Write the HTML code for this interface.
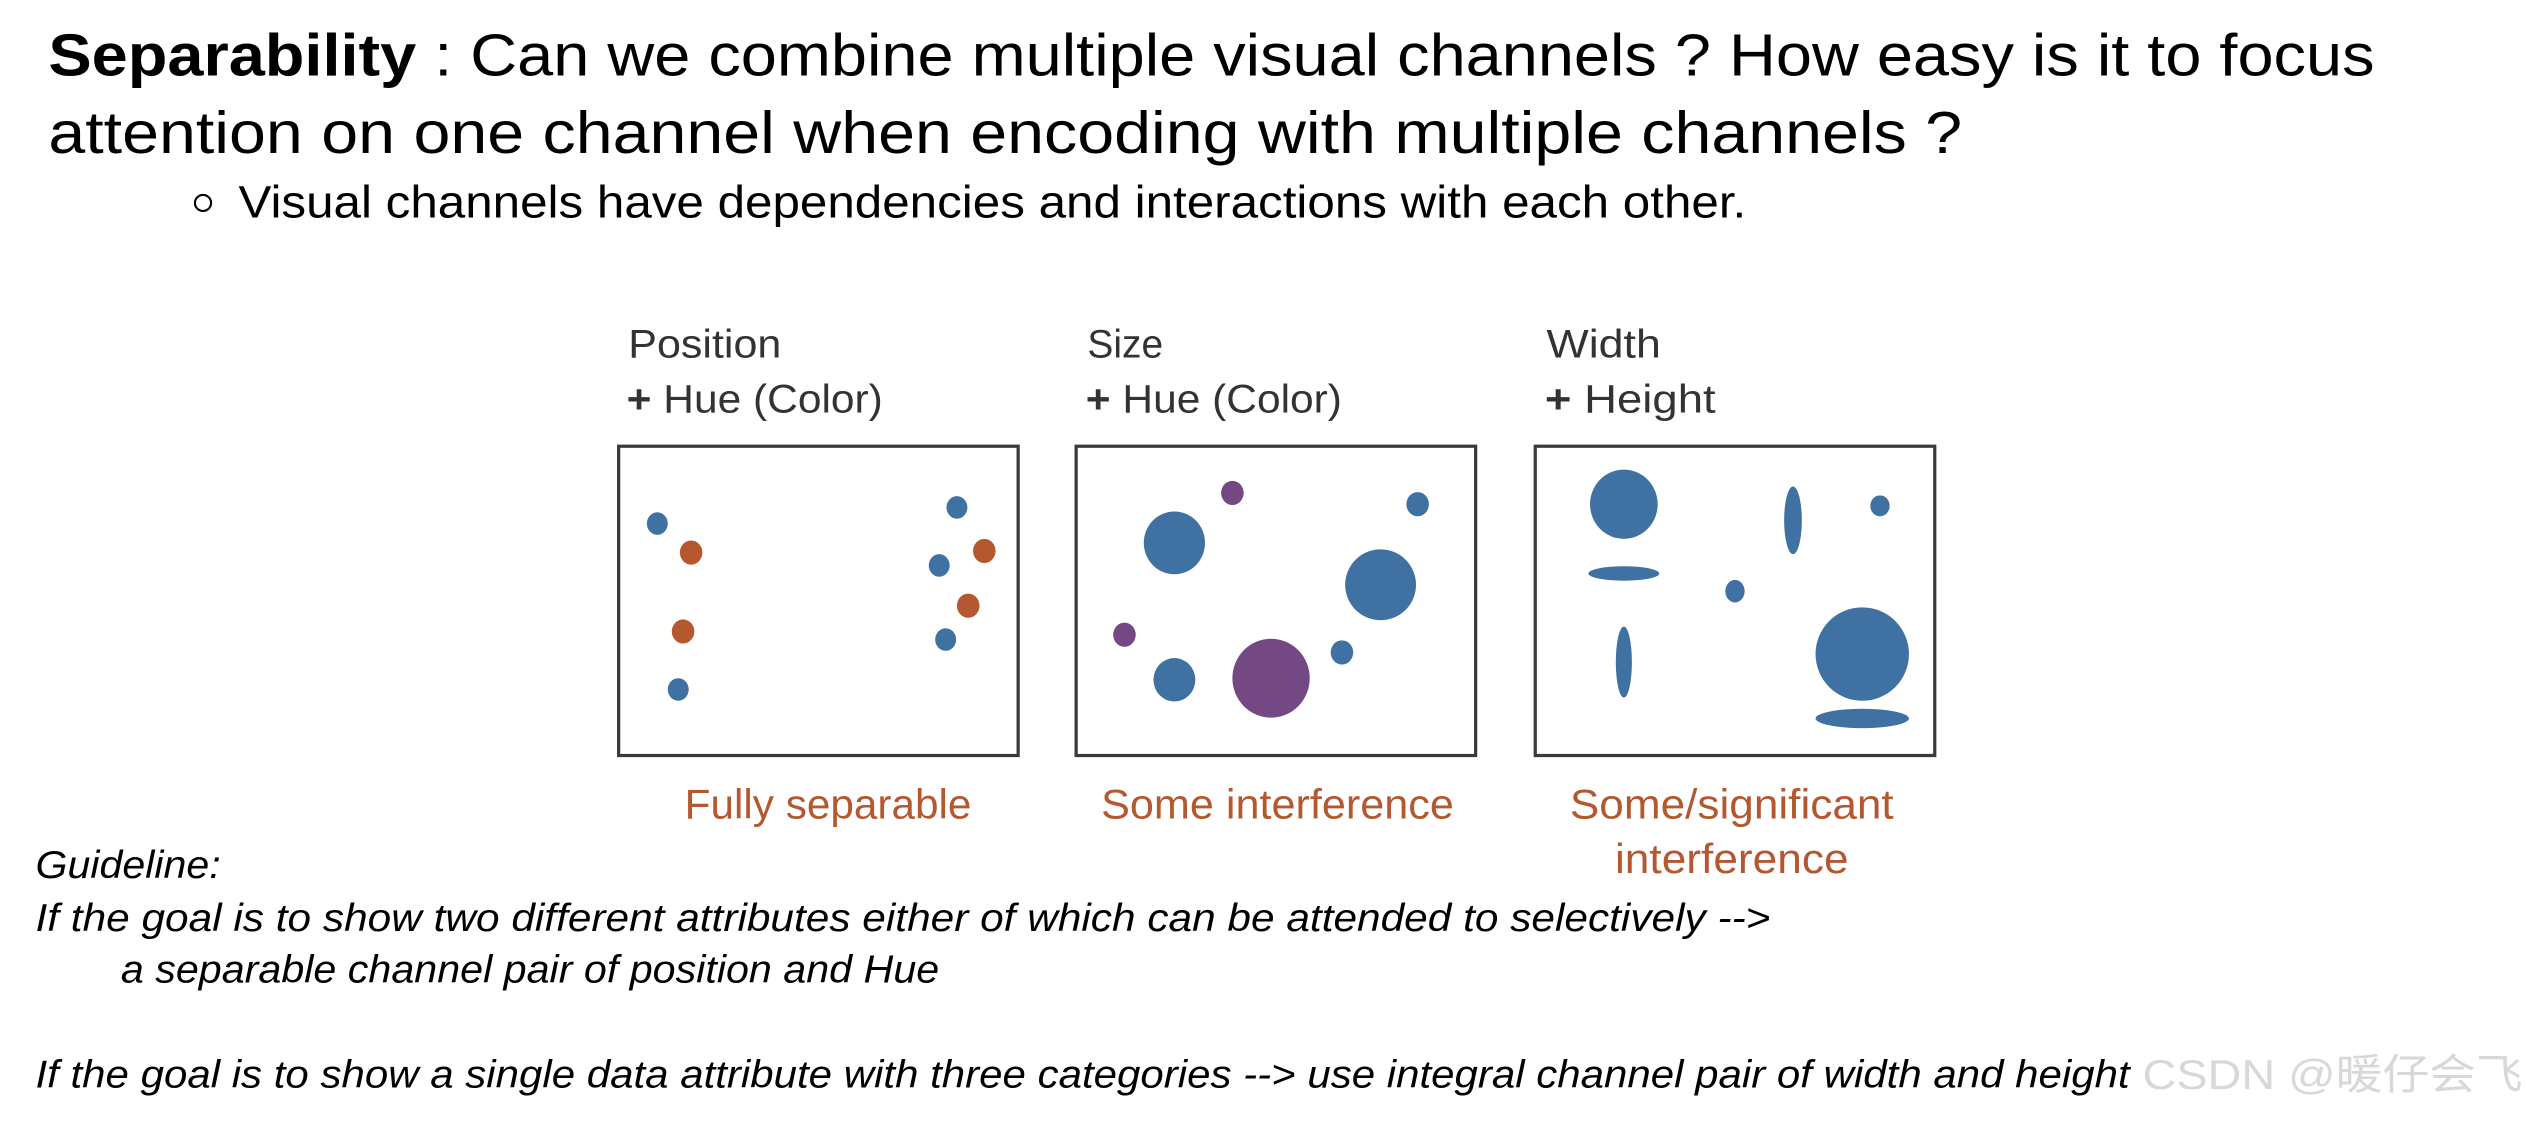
<!DOCTYPE html>
<html><head><meta charset="utf-8"><style>
html,body{margin:0;padding:0;background:#fff;}
svg{display:block;}
text{font-family:"Liberation Sans","Noto Sans CJK SC",sans-serif;}
</style></head><body>
<svg width="2526" height="1122" viewBox="0 0 1568 696.5" xmlns="http://www.w3.org/2000/svg">
<rect width="1568" height="696.5" fill="#fff"/>
<text x="30" y="47" font-size="37" fill="#000" textLength="1444" lengthAdjust="spacingAndGlyphs"><tspan font-weight="bold">Separability</tspan> : Can we combine multiple visual channels ? How easy is it to focus</text>
<text x="30" y="95" font-size="37" fill="#000" textLength="1188" lengthAdjust="spacingAndGlyphs">attention on one channel when encoding with multiple channels ?</text>
<circle cx="126" cy="126" r="5" fill="none" stroke="#000" stroke-width="1.3"/>
<text x="148" y="135" font-size="28" fill="#000" textLength="936" lengthAdjust="spacingAndGlyphs">Visual channels have dependencies and interactions with each other.</text>

<g font-size="25" fill="#333">
<text x="390" y="222" textLength="95" lengthAdjust="spacingAndGlyphs">Position</text>
<text x="389" y="256" textLength="159" lengthAdjust="spacingAndGlyphs"><tspan font-weight="bold">+</tspan> Hue (Color)</text>
<text x="675" y="222" textLength="47" lengthAdjust="spacingAndGlyphs">Size</text>
<text x="674" y="256" textLength="159" lengthAdjust="spacingAndGlyphs"><tspan font-weight="bold">+</tspan> Hue (Color)</text>
<text x="960" y="222" textLength="71" lengthAdjust="spacingAndGlyphs">Width</text>
<text x="959" y="256" textLength="106" lengthAdjust="spacingAndGlyphs"><tspan font-weight="bold">+</tspan> Height</text>
</g>

<g fill="none" stroke="#3a3a3a" stroke-width="2">
<rect x="384" y="277" width="248" height="192"/>
<rect x="668" y="277" width="248" height="192"/>
<rect x="953" y="277" width="248" height="192"/>
</g>

<g fill="#3f72a2">
<ellipse cx="408" cy="325" rx="6.5" ry="7"/>
<ellipse cx="421" cy="428" rx="6.5" ry="7"/>
<ellipse cx="594" cy="315" rx="6.5" ry="7"/>
<ellipse cx="583" cy="351" rx="6.5" ry="7"/>
<ellipse cx="587" cy="397" rx="6.5" ry="7"/>
</g>
<g fill="#b5582f">
<ellipse cx="429" cy="343" rx="7" ry="7.5"/>
<ellipse cx="424" cy="392" rx="7" ry="7.5"/>
<ellipse cx="611" cy="342" rx="7" ry="7.5"/>
<ellipse cx="601" cy="376" rx="7" ry="7.5"/>
</g>

<g fill="#3f72a2">
<ellipse cx="729" cy="337" rx="19" ry="19.5"/>
<ellipse cx="880" cy="313" rx="7" ry="7.5"/>
<ellipse cx="857" cy="363" rx="22" ry="22"/>
<ellipse cx="729" cy="422" rx="13" ry="13.5"/>
<ellipse cx="833" cy="405" rx="7" ry="7.5"/>
</g>
<g fill="#744883">
<ellipse cx="765" cy="306" rx="7" ry="7.5"/>
<ellipse cx="698" cy="394" rx="7" ry="7.5"/>
<ellipse cx="789" cy="421" rx="24" ry="24.5"/>
</g>

<g fill="#3f72a2">
<ellipse cx="1008" cy="313" rx="21" ry="21.5"/>
<ellipse cx="1008" cy="356" rx="22" ry="4.5"/>
<ellipse cx="1113" cy="323" rx="5.5" ry="21"/>
<ellipse cx="1167" cy="314" rx="6" ry="6.5"/>
<ellipse cx="1077" cy="367" rx="6" ry="7"/>
<ellipse cx="1008" cy="411" rx="5" ry="22"/>
<ellipse cx="1156" cy="406" rx="29" ry="29"/>
<ellipse cx="1156" cy="446" rx="29" ry="6"/>
</g>

<g font-size="26" fill="#b5582f" text-anchor="middle">
<text x="514" y="508" textLength="178" lengthAdjust="spacingAndGlyphs">Fully separable</text>
<text x="793" y="508" textLength="219" lengthAdjust="spacingAndGlyphs">Some interference</text>
<text x="1075" y="508" textLength="201" lengthAdjust="spacingAndGlyphs">Some/significant</text>
<text x="1075" y="542" textLength="145" lengthAdjust="spacingAndGlyphs">interference</text>
</g>

<g font-size="24" font-style="italic" fill="#000">
<text x="22" y="545" textLength="115" lengthAdjust="spacingAndGlyphs">Guideline:</text>
<text x="22" y="578" textLength="1077" lengthAdjust="spacingAndGlyphs">If the goal is to show two different attributes either of which can be attended to selectively --&gt;</text>
<text x="75" y="610" textLength="508" lengthAdjust="spacingAndGlyphs">a separable channel pair of position and Hue</text>
<text x="22" y="675" textLength="1300" lengthAdjust="spacingAndGlyphs">If the goal is to show a single data attribute with three categories --&gt; use integral channel pair of width and height</text>
</g>
<text x="1330" y="676" font-size="26" fill="#d8d8d8" textLength="236" lengthAdjust="spacingAndGlyphs">CSDN @暖仔会飞</text>
</svg>
</body></html>
